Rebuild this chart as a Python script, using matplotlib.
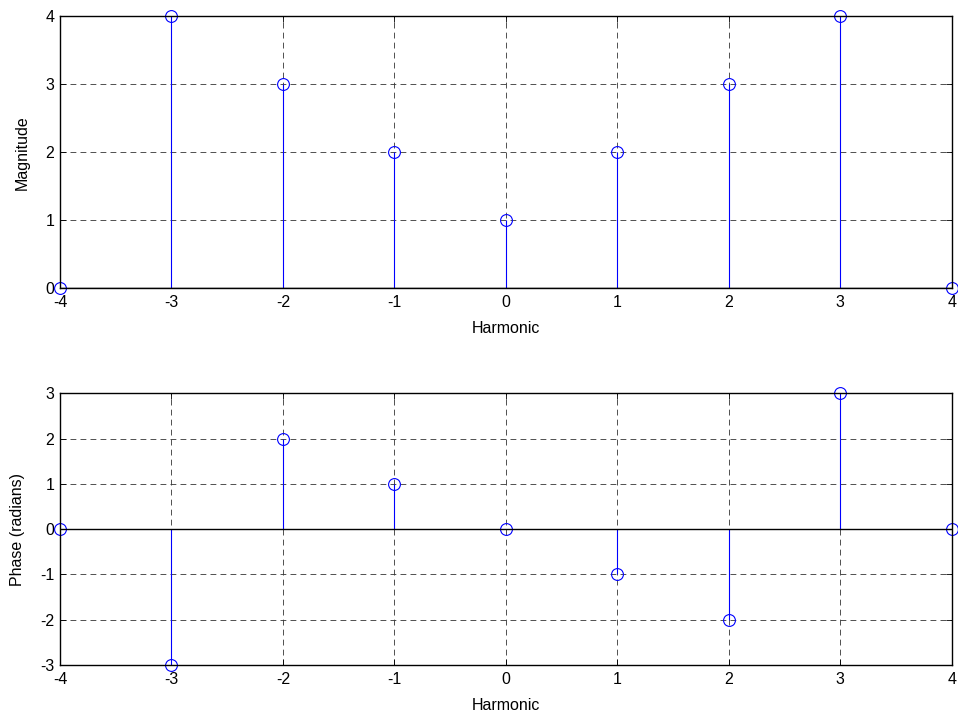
import numpy as np
import matplotlib
matplotlib.use("Agg")
import matplotlib.pyplot as plt

plt.rcParams["font.family"] = ["Liberation Sans", "DejaVu Sans"]
plt.rcParams["font.size"] = 11.5
plt.rcParams["axes.unicode_minus"] = False

# harmonics and their coefficients
harmonic = [-4, -3, -2, -1, 0, 1, 2, 3, 4]
magnitude = [0, 4, 3, 2, 1, 2, 3, 4, 0]
phase = [0, -3, 2, 1, 0, -1, -2, 3, 0]

fig = plt.figure(figsize=(9.58, 7.17), dpi=100)
ax1 = fig.add_axes([0.0626, 0.598, 0.931, 0.379])
ax2 = fig.add_axes([0.0626, 0.0725, 0.931, 0.379])


def stem_panel(ax, x, y, ylim, ylabel):
    ml, sl, bl = ax.stem(x, y, linefmt="b-", markerfmt="bo", basefmt="k-")
    ml.set_markerfacecolor("none")
    ml.set_markeredgewidth(0.8)
    ml.set_markersize(8.5)
    ml.set_clip_on(False)
    sl.set_linewidth(0.8)
    bl.set_linewidth(1.0)
    bl.set_xdata([-4, 4])
    ax.set_xlim(-4, 4)
    ax.set_ylim(*ylim)
    ax.set_xticks(harmonic)
    ax.set_yticks(np.arange(ylim[0], ylim[1] + 1))
    ax.grid(True, color="#333333", linestyle=(0, (7, 5)), linewidth=0.6)
    ax.set_axisbelow(True)
    ax.tick_params(direction="in", length=4, width=0.6, top=True, right=True)
    ax.tick_params(axis="x", pad=5)
    ax.tick_params(axis="y", pad=4)
    for s in ax.spines.values():
        s.set_linewidth(1.0)
    ax.set_xlabel("Harmonic", labelpad=8)
    ax.set_ylabel(ylabel, labelpad=11)


stem_panel(ax1, harmonic, magnitude, (0, 4), "Magnitude")
stem_panel(ax2, harmonic, phase, (-3, 3), "Phase (radians)")

fig.savefig("out.png", dpi=100)
